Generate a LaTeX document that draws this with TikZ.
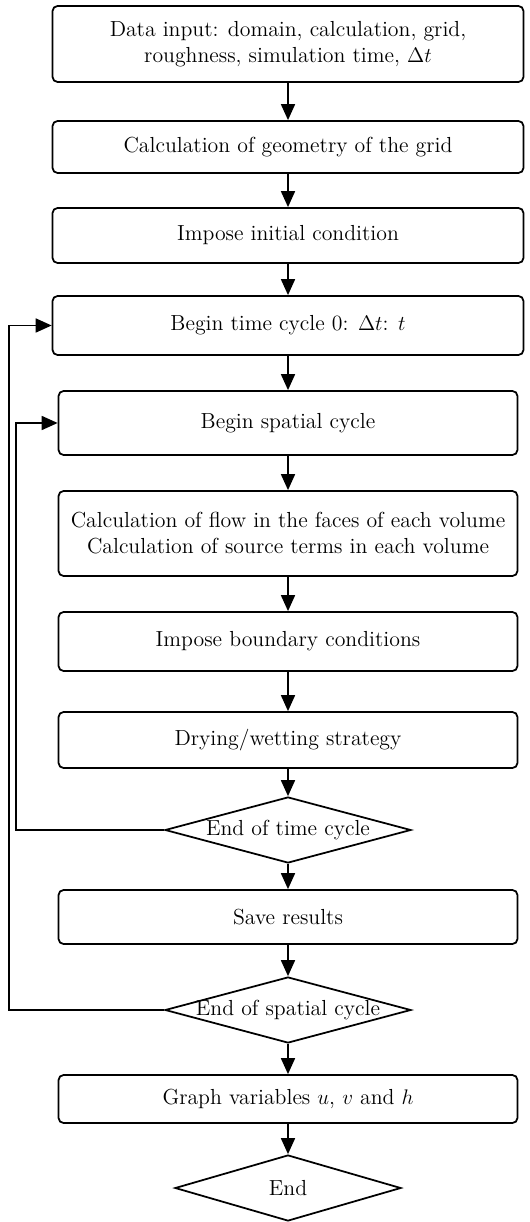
\documentclass[tikz,border=0pt]{standalone}
\usepackage{tikz}
\usetikzlibrary{arrows.meta,positioning,shapes.geometric}

\begin{document}
\begin{tikzpicture}[x=0.02cm,y=-0.02cm,line width=1pt,>={Triangle[length=0.32cm,width=0.28cm]},
  box/.style={draw,rounded corners=0.1cm,align=center,inner sep=2pt,font=\fontsize{12.4}{14.8}\selectfont},
  wbox/.style={box,minimum width=9.42cm},
  nbox/.style={box,minimum width=9.18cm},
  dec/.style={draw,diamond,inner sep=0pt,minimum width=4.92cm,minimum height=1.32cm,
    label={[font=\fontsize{12.4}{14.8}\selectfont]center:#1}}]
\useasboundingbox(0,0)rectangle(529,1222);
\node[wbox,minimum height=1.52cm](input)at(288,44){Data input: domain, calculation, grid,\\ roughness, simulation time, $\Delta t$};
\node[wbox,minimum height=1.04cm](geom)at(288,147){Calculation of geometry of the grid};
\node[wbox,minimum height=1.1cm](init)at(288,235.5){Impose initial condition};
\node[wbox,minimum height=1.18cm](tbeg)at(288,325.5){Begin time cycle 0: $\Delta t$: $t$};
\node[nbox,minimum height=1.28cm](sbeg)at(288,423){Begin spatial cycle};
\node[nbox,minimum height=1.7cm](flow)at(288,533.5){Calculation of flow in the faces of each volume\\ Calculation of source terms in each volume};
\node[nbox,minimum height=1.18cm](bound)at(288,641.5){Impose boundary conditions};
\node[nbox,minimum height=1.12cm](dry)at(288,740){Drying/wetting strategy};
\node[dec=End of time cycle](tend)at(288,830){};
\node[nbox,minimum height=1.08cm](save)at(288,917){Save results};
\node[dec=End of spatial cycle](send)at(288,1010){};
\node[nbox,minimum height=0.96cm](graph)at(288,1099){Graph variables $u$, $v$ and $h$};
\node[dec=End,minimum width=4.52cm](fin)at(288,1188){};
\draw[->](input.south)--(geom.north);
\draw[->](geom.south)--(init.north);
\draw[->](init.south)--(tbeg.north);
\draw[->](tbeg.south)--(sbeg.north);
\draw[->](sbeg.south)--(flow.north);
\draw[->](flow.south)--(bound.north);
\draw[->](bound.south)--(dry.north);
\draw[->](dry.south)--(tend.north);
\draw[->](tend.south)--(save.north);
\draw[->](save.south)--(send.north);
\draw[->](send.south)--(graph.north);
\draw[->](graph.south)--(fin.north);
\draw[->](tend.west)--++(-148,0)|-(sbeg.west);
\draw[->](send.west)--++(-155,0)|-(tbeg.west);
\end{tikzpicture}
\end{document}
